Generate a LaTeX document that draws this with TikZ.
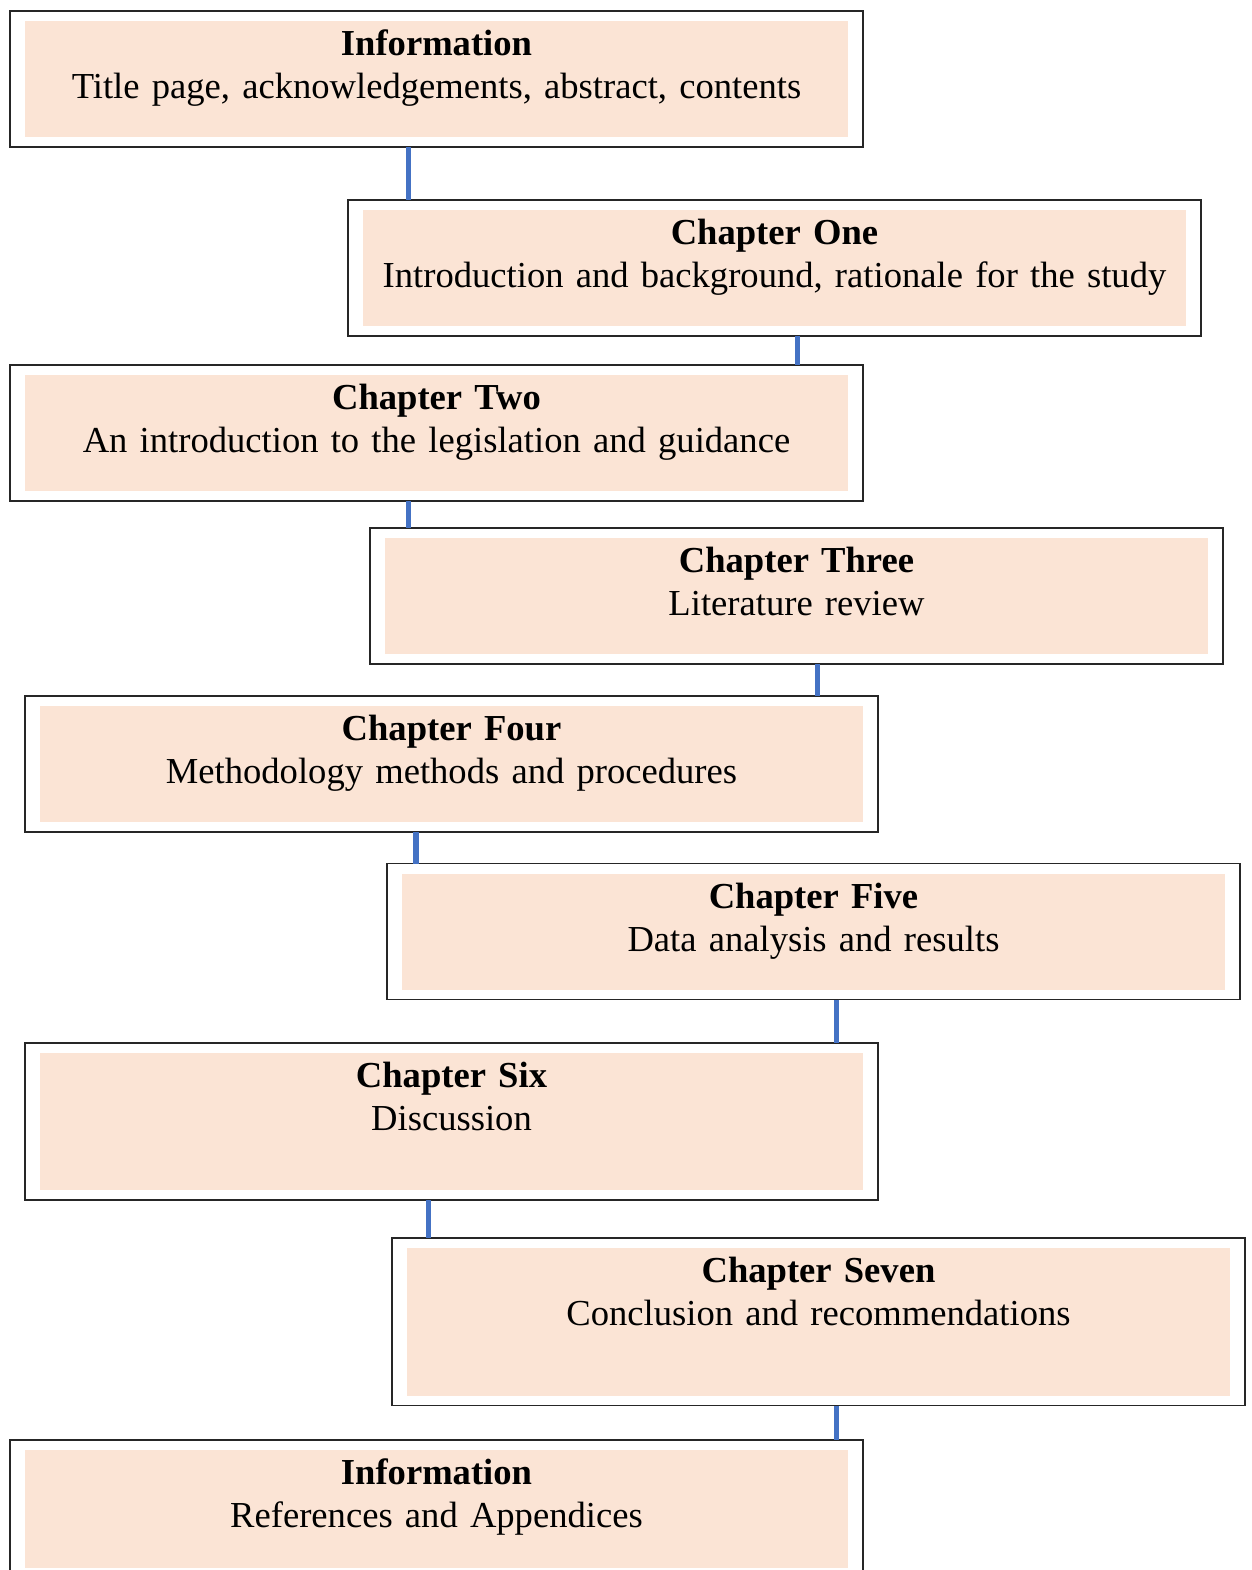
\documentclass[tikz,border=0pt]{standalone}
\usepackage{fontspec}
\setmainfont{Liberation Serif}
\usetikzlibrary{calc}

\definecolor{peach}{HTML}{FBE4D5}
\definecolor{linkblue}{HTML}{4472C4}

\begin{document}
\begin{tikzpicture}[x=0.5pt,y=-0.5pt,
frame/.style={rectangle, draw=black!85, line width=0.9pt, fill=white, anchor=north,
  inner sep=0pt, outer sep=0pt, text width=426.5pt, align=center,
  text height=22.25pt, text depth=#1,
  font=\fontsize{18.3pt}{21.6pt}\selectfont,
  path picture={\fill[peach] ([xshift=7.5pt,yshift=-5pt]path picture bounding box.north west)
    rectangle ([xshift=-7.5pt,yshift=5pt]path picture bounding box.south east);}},
frame/.default=45.75pt,
link/.style={draw=linkblue, line width=2.6pt}]

\useasboundingbox (0,0) rectangle (1252,1570);

\draw (436.5,11) node[frame] (Info) {\textbf{Information}\\Title page, acknowledgements, abstract, contents};
\draw (774.5,200) node[frame] (Ch1) {\textbf{Chapter One}\\Introduction and background, rationale for the study};
\draw (436.5,365) node[frame] (Ch2) {\textbf{Chapter Two}\\An introduction to the legislation and guidance};
\draw (796.5,528) node[frame] (Ch3) {\textbf{Chapter Three}\\Literature review};
\draw (451.5,696) node[frame] (Ch4) {\textbf{Chapter Four}\\Methodology methods and procedures};
\draw (813.5,863.5) node[frame] (Ch5) {\textbf{Chapter Five}\\Data analysis and results};
\draw (451.5,1043) node[frame=56.25pt] (Ch6) {\textbf{Chapter Six}\\Discussion};
\draw (818.5,1238) node[frame=61.5pt] (Ch7) {\textbf{Chapter Seven}\\Conclusion and recommendations};
\draw (436.5,1440) node[frame=46.75pt] (Refs) {\textbf{Information}\\References and Appendices};

\draw[link] ([xshift=-14pt]Info.south) -- ([xshift=-14pt]Info.south |- Ch1.north);
\draw[link] ([xshift=11.5pt]Ch1.south) -- ([xshift=11.5pt]Ch1.south |- Ch2.north);
\draw[link] ([xshift=-14pt]Ch2.south) -- ([xshift=-14pt]Ch2.south |- Ch3.north);
\draw[link] ([xshift=10.5pt]Ch3.south) -- ([xshift=10.5pt]Ch3.south |- Ch4.north);
\draw[link] ([xshift=-17.75pt]Ch4.south) -- ([xshift=-17.75pt]Ch4.south |- Ch5.north);
\draw[link] ([xshift=11.5pt]Ch5.south) -- ([xshift=11.5pt]Ch5.south |- Ch6.north);
\draw[link] ([xshift=-11.5pt]Ch6.south) -- ([xshift=-11.5pt]Ch6.south |- Ch7.north);
\draw[link] ([xshift=9pt]Ch7.south) -- ([xshift=9pt]Ch7.south |- Refs.north);

\end{tikzpicture}
\end{document}
